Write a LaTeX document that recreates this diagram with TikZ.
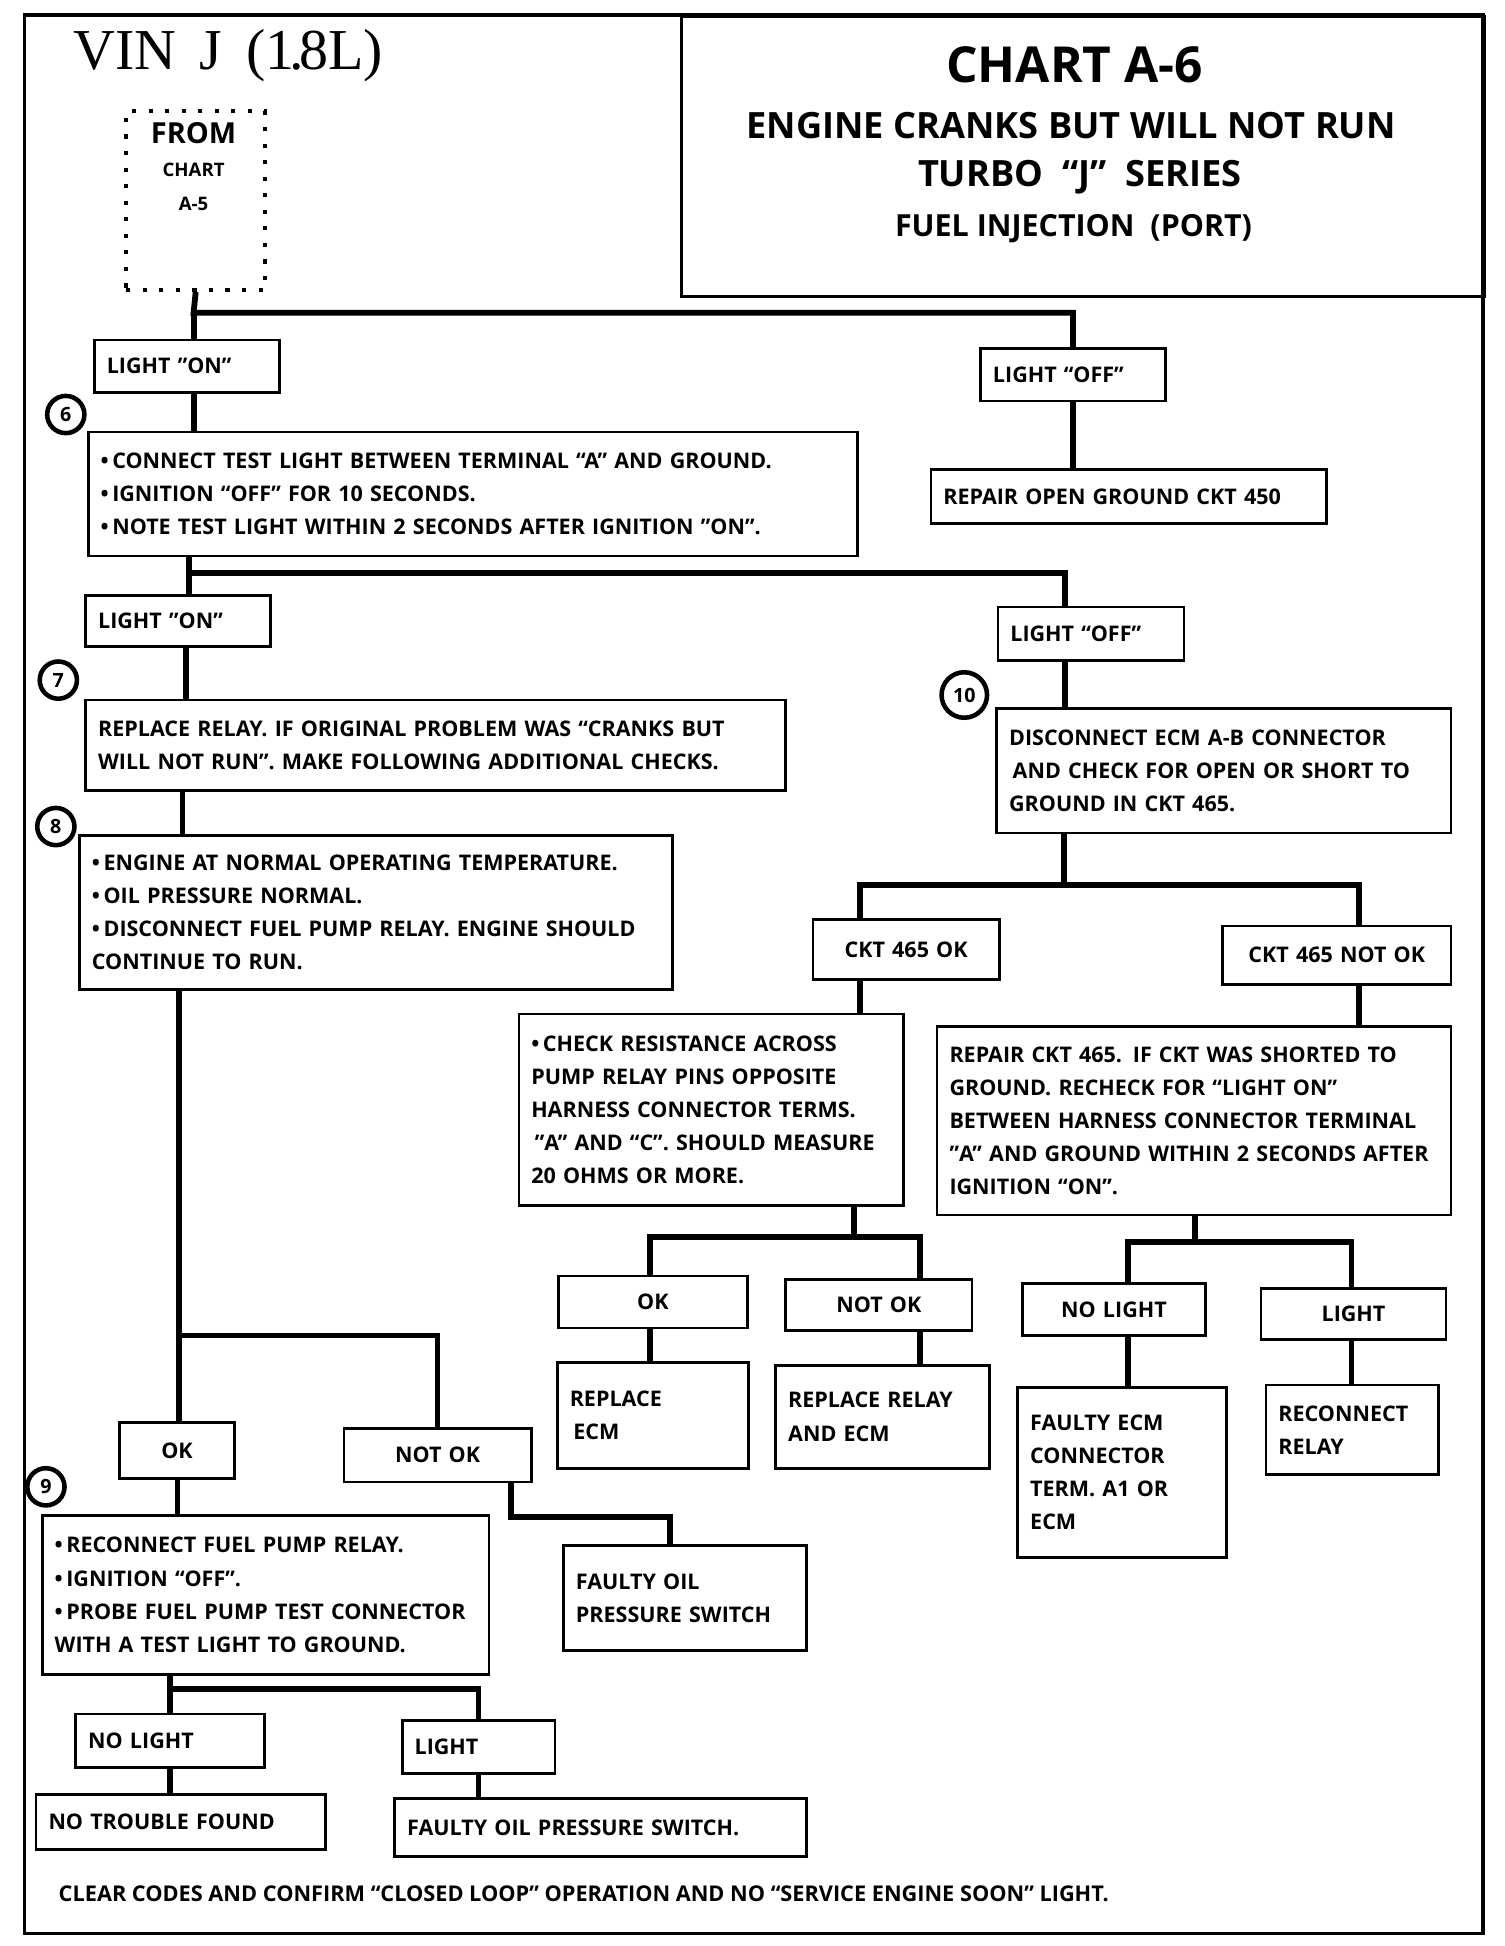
\documentclass[tikz,border=0pt]{standalone}
\usepackage{fontspec}
\setmainfont{Open Sans}
\newfontfamily\seriff{Liberation Serif}
\usetikzlibrary{calc}
\tikzset{
  boxst/.style={draw, line width=1.3pt, anchor=north west, inner xsep=6pt, inner ysep=0pt,
    font=\bfseries\fontsize{10.4}{16}\selectfont, align=left},
  ctr/.style={align=center},
  conn/.style={line width=2.8pt, line join=miter},
  num/.style={circle, draw, line width=2.2pt, minimum size=18pt, inner sep=0pt,
    font=\bfseries\fontsize{9.5}{10}\selectfont},
  ttl/.style={font=\bfseries\fontsize{#1}{#1}\selectfont, inner sep=0pt},
}
\newcommand{\bx}[7][]{\node[boxst,#1, minimum width={(#5-#3)*0.6pt}, minimum height={(#6-#4)*0.6pt},
  text width={(#5-#3)*0.6pt-12pt}] (#2) at (#3,#4) {#7};}
\begin{document}
\begin{tikzpicture}[x=0.6pt,y=-0.6pt]
\useasboundingbox (0,0) rectangle (1212,1568);
% frame
\draw[line width=1.6pt] (20,12) rectangle (1195,1558);
\node[draw, line width=1.5pt, anchor=north west, minimum width={647*0.6pt}, minimum height={226*0.6pt}] (titlebox) at (548,12) {};
\node[ttl=24] (t1) at (866,52) {CHART A-6};
\node[ttl=17.5] (t2) at (863,101) {ENGINE CRANKS BUT WILL NOT RUN};
\node[ttl=17.5] (t3) at (870,143) {TURBO\ \ “J”\ \ SERIES};
\node[ttl=14.7] (t4) at (865,184) {FUEL INJECTION\ \ (PORT)};
\node[font=\seriff\fontsize{28}{30}\selectfont, anchor=west, inner sep=0pt] (vin) at (59,45) {VIN\hspace{11pt}J\hspace{12pt}(1\kern-2.5pt.\kern-2.5pt8L)};
% from box
\node[draw, line width=2pt, dash pattern=on 2pt off 6pt, anchor=north west, minimum width={112*0.6pt}, minimum height={144*0.6pt}] (from) at (100,88) {};
\node[ttl=14] (fr1) at (156,107) {FROM};
\node[ttl=9] (fr2) at (156,137) {CHART};
\node[ttl=9] (fr3) at (156,164) {A-5};
% boxes
\bx{lon1}{75}{273}{224}{315}{LIGHT "ON"}
\bx{loff1}{789}{280}{938}{322}{LIGHT “OFF”}
\bx{b6}{70}{347}{690}{447}{•\,CONNECT TEST LIGHT BETWEEN TERMINAL “A” AND GROUND.\\•\,IGNITION “OFF” FOR 10 SECONDS.\\•\,NOTE TEST LIGHT WITHIN 2 SECONDS AFTER IGNITION "ON".}
\bx{r450}{749}{377}{1068}{421}{REPAIR OPEN GROUND CKT 450}
\bx{lon2}{68}{479}{217}{520}{LIGHT "ON"}
\bx{loff2}{803}{488}{953}{531}{LIGHT “OFF”}
\bx{b7}{68}{563}{632}{636}{REPLACE RELAY. IF ORIGINAL PROBLEM WAS “CRANKS BUT\\WILL NOT RUN”. MAKE FOLLOWING ADDITIONAL CHECKS.}
\bx{b10}{802}{570}{1168}{670}{DISCONNECT ECM A-B CONNECTOR\\\,AND CHECK FOR OPEN OR SHORT TO\\GROUND IN CKT 465.}
\bx{b8}{63}{672}{541}{796}{•\,ENGINE AT NORMAL OPERATING TEMPERATURE.\\•\,OIL PRESSURE NORMAL.\\•\,DISCONNECT FUEL PUMP RELAY. ENGINE SHOULD\\CONTINUE TO RUN.}
\bx[ctr]{cktok}{654}{740}{804}{788}{CKT 465 OK}
\bx[ctr]{cktnok}{984}{745}{1168}{792}{CKT 465 NOT OK}
\bx{res}{417}{816}{727}{970}{•\,CHECK RESISTANCE ACROSS\\PUMP RELAY PINS OPPOSITE\\HARNESS CONNECTOR TERMS.\\\,"A" AND “C”. SHOULD MEASURE\\20 OHMS OR MORE.}
\bx{rep}{754}{826}{1168}{978}{REPAIR CKT 465. IF CKT WAS SHORTED TO\\GROUND. RECHECK FOR “LIGHT ON”\\BETWEEN HARNESS CONNECTOR TERMINAL\\"A" AND GROUND WITHIN 2 SECONDS AFTER\\IGNITION “ON”.}
\bx[ctr]{ok2}{449}{1027}{601}{1069}{OK}
\bx[ctr]{nok2}{632}{1030}{782}{1071}{NOT OK}
\bx[ctr]{nl2}{823}{1033}{970}{1075}{NO LIGHT}
\bx[ctr]{l2}{1015}{1037}{1164}{1078}{LIGHT}
\bx{recm}{448}{1097}{602}{1182}{REPLACE\\\,ECM}
\bx{rrel}{624}{1099}{796}{1182}{REPLACE RELAY\\AND ECM}
\bx{fecm}{819}{1117}{987}{1254}{FAULTY ECM\\CONNECTOR\\TERM. A1 OR\\ECM}
\bx{recon}{1019}{1115}{1158}{1187}{RECONNECT\\RELAY}
\bx[ctr]{ok1}{95}{1145}{188}{1190}{OK}
\bx[ctr]{nok1}{276}{1150}{427}{1193}{NOT OK}
\bx{b9}{33}{1220}{393}{1348}{•\,RECONNECT FUEL PUMP RELAY.\\•\,IGNITION “OFF”.\\•\,PROBE FUEL PUMP TEST CONNECTOR\\WITH A TEST LIGHT TO GROUND.}
\bx{fo}{453}{1244}{649}{1329}{FAULTY OIL\\PRESSURE SWITCH}
\bx{nl1}{60}{1380}{212}{1423}{NO LIGHT}
\bx{l1}{323}{1385}{446}{1428}{LIGHT}
\bx{ntf}{28}{1445}{261}{1489}{NO TROUBLE FOUND}
\bx{fops}{317}{1448}{649}{1495}{FAULTY OIL PRESSURE SWITCH.}
\node[ttl=10.5, anchor=west] (foot) at (47,1526) {CLEAR CODES AND CONFIRM “CLOSED LOOP” OPERATION AND NO “SERVICE ENGINE SOON” LIGHT.};
% step numbers
\node[num] (n6) at (53,334) {6};
\node[num] (n7) at (47,548) {7};
\node[num] (n8) at (45,666) {8};
\node[num] (n9) at (37,1198) {9};
\node[num, minimum size=22pt] (n10) at (777,560) {10};
% connectors
\coordinate (j1) at (156,252);
\draw[conn] (from.south) -- (j1) -| (loff1.north);
\draw[conn] (j1) -- (j1 |- lon1.north);
\draw[conn] (j1 |- lon1.south) -- (j1 |- b6.north);
\draw[conn] (loff1.south) -- (loff1.south |- r450.north);
\coordinate (j2) at (152,462);
\coordinate (j2r) at (858,462);
\draw[conn] (j2 |- b6.south) -- (j2 |- lon2.north);
\draw[conn] (j2) -- (j2r) -- (j2r |- loff2.north);
\draw[conn] (j2r |- loff2.south) -- (j2r |- b10.north);
\coordinate (x7) at (150,540);
\draw[conn] (x7 |- lon2.south) -- (x7 |- b7.north);
\coordinate (x8) at (147,650);
\draw[conn] (x8 |- b7.south) -- (x8 |- b8.north);
\coordinate (j3) at (144,1076);
\draw[conn] (j3 |- b8.south) -- (j3 |- ok1.north);
\draw[conn] (j3) -| (nok1.north);
\coordinate (x9) at (143,1205);
\draw[conn] (x9 |- ok1.south) -- (x9 |- b9.north);
\coordinate (j4) at (412,1222);
\coordinate (j4r) at (540,1222);
\draw[conn] (j4 |- nok1.south) -- (j4) -- (j4r) -- (j4r |- fo.north);
\coordinate (j5) at (137,1361);
\draw[conn] (j5 |- b9.south) -- (j5 |- nl1.north);
\draw[conn] (j5) -| (l1.north);
\draw[conn] (j5 |- nl1.south) -- (j5 |- ntf.north);
\draw[conn] (l1.south) -- (l1.south |- fops.north);
\coordinate (j6) at (857,713);
\coordinate (j6l) at (693,713);
\coordinate (j6r) at (1095,713);
\draw[conn] (j6 |- b10.south) -- (j6);
\draw[conn] (j6l |- cktok.north) -- (j6l) -- (j6r) -- (j6r |- cktnok.north);
\draw[conn] (j6l |- cktok.south) -- (j6l |- res.north);
\draw[conn] (j6r |- cktnok.south) -- (j6r |- rep.north);
\coordinate (j7) at (688,997);
\coordinate (j7l) at (524,997);
\coordinate (j7r) at (741,997);
\draw[conn] (j7 |- res.south) -- (j7);
\draw[conn] (j7l |- ok2.north) -- (j7l) -- (j7r) -- (j7r |- nok2.north);
\draw[conn] (j7l |- ok2.south) -- (j7l |- recm.north);
\draw[conn] (j7r |- nok2.south) -- (j7r |- rrel.north);
\coordinate (j8) at (963,1001);
\coordinate (j8l) at (909,1001);
\coordinate (j8r) at (1089,1001);
\draw[conn] (j8 |- rep.south) -- (j8);
\draw[conn] (j8l |- nl2.north) -- (j8l) -- (j8r) -- (j8r |- l2.north);
\draw[conn] (j8l |- nl2.south) -- (j8l |- fecm.north);
\draw[conn] (j8r |- l2.south) -- (j8r |- recon.north);
\end{tikzpicture}
\end{document}
